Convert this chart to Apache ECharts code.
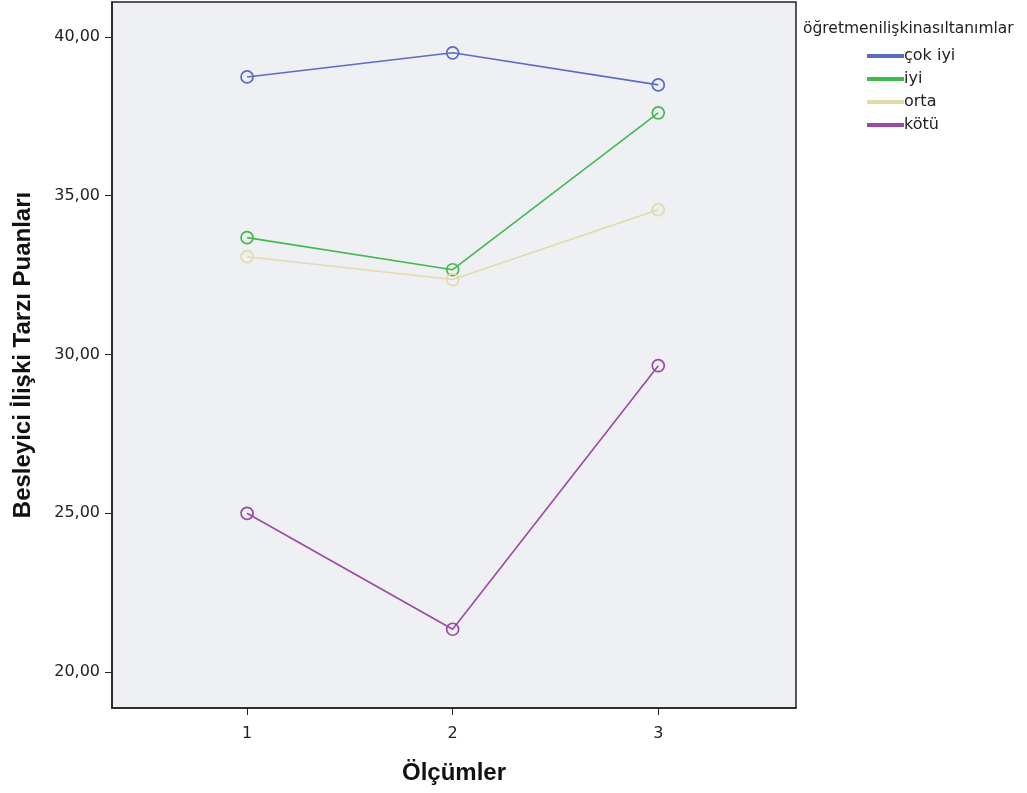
<!DOCTYPE html>
<html><head><meta charset="utf-8">
<script src="https://cdn.jsdelivr.net/npm/echarts@6/dist/echarts.min.js"></script>
<style>html,body{margin:0;padding:0;background:#fff}#c{width:1027px;height:793px}</style>
</head><body><div id="c"></div>
<script>
const categories = [1, 2, 3];
const seriesNames = ['çok iyi', 'iyi', 'orta', 'kötü'];
const cokIyi = [38.74, 39.50, 38.49];
const iyi = [33.68, 32.67, 37.61];
const orta = [33.08, 32.36, 34.56];
const kotu = [25.00, 21.35, 29.65];
const yTicks = [20, 25, 30, 35, 40];
const colors = ['#5b6bc6', '#3fbb4c', '#e2dba8', '#9b48a8'];
const legendTitle = 'öğretmenilişkinasıltanımlar';
const xName = 'Ölçümler';
const yName = 'Besleyici İlişki Tarzı Puanları';

const allData = [cokIyi, iyi, orta, kotu];
const font = '"DejaVu Sans", sans-serif';
const boldFont = '"Liberation Sans", Arial, sans-serif';
const chart = echarts.init(document.getElementById('c'));
chart.setOption({
  animation: false,
  backgroundColor: '#fff',
  grid: { left: 112, right: 231, top: 2, bottom: 85, show: true, outerBoundsMode: 'none',
    containLabel: false,
    backgroundColor: '#eff0f3', borderColor: '#222', borderWidth: 1.5 },
  title: { text: legendTitle, left: 803, top: 21, padding: 0,
    textStyle: { fontFamily: font, fontSize: 15.5, fontWeight: 'normal', color: '#222' } },
  legend: { orient: 'vertical', left: 867, top: 48, icon: 'rect', itemWidth: 35, itemHeight: 2,
    itemGap: 7, padding: 0, data: seriesNames,
    textStyle: { fontFamily: font, fontSize: 16, color: '#222', padding: [0,0,0,-4] } },
  xAxis: { type: 'value', min: 0.343, max: 3.67,
    name: xName, nameLocation: 'middle', nameGap: 53,
    nameTextStyle: { fontFamily: boldFont, fontSize: 24, fontWeight: 'bold', color: '#111' },
    axisLine: { show: true, lineStyle: { color: '#222', width: 1.5 } },
    axisTick: { show: true, length: 7, customValues: categories, lineStyle: { color: '#222' } },
    axisLabel: { customValues: categories, fontFamily: font, fontSize: 16, color: '#222', margin: 18 },
    splitLine: { show: false } },
  yAxis: { type: 'value', min: 18.87, max: 41.1,
    name: yName, nameLocation: 'middle', nameGap: 77,
    nameTextStyle: { fontFamily: boldFont, fontSize: 24, fontWeight: 'bold', color: '#111' },
    axisLine: { show: true, lineStyle: { color: '#222', width: 1.5 } },
    axisTick: { show: true, length: 7, customValues: yTicks, lineStyle: { color: '#222' } },
    axisLabel: { customValues: yTicks, fontFamily: font, fontSize: 16, color: '#222', margin: 12,
      formatter: v => v.toFixed(2).replace('.', ',') },
    splitLine: { show: false } },
  series: seriesNames.map((n, i) => ({
    name: n, type: 'line',
    data: categories.map((c, j) => [c, allData[i][j]]),
    symbol: 'circle', symbolSize: 12,
    lineStyle: { color: colors[i], width: 1.6 },
    itemStyle: { color: 'rgba(0,0,0,0)', borderColor: colors[i], borderWidth: 1.7 },
    emphasis: { disabled: true }
  })),
  color: colors
});
</script></body></html>
